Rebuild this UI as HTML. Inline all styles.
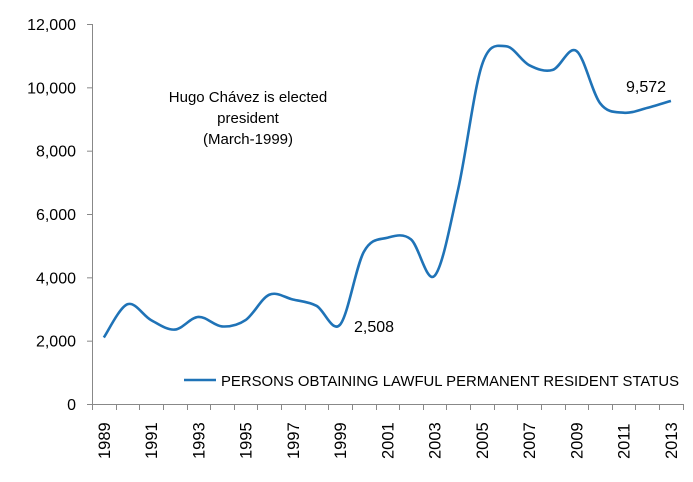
<!DOCTYPE html>
<html><head><style>
body{margin:0;background:#fff}
text{font-family:"Liberation Sans",Calibri,sans-serif;fill:#000}
</style></head><body>
<svg width="693" height="477" viewBox="0 0 693 477" xmlns="http://www.w3.org/2000/svg">
<g stroke="#888" stroke-width="1">
<line x1="92.5" y1="24" x2="92.5" y2="405"/>
<line x1="92" y1="404.5" x2="683" y2="404.5"/>
<g id="yt"></g><g id="xt"></g>
</g>
<g font-size="16" text-anchor="end" id="yl"></g>
<g font-size="16.5" id="xl"></g>
<path id="ln" fill="none" stroke="#1f73b7" stroke-width="2.6"/>
<text x="248" y="102" font-size="15" text-anchor="middle">Hugo Chávez is elected</text>
<text x="248" y="123" font-size="15" text-anchor="middle">president</text>
<text x="248" y="144" font-size="15" text-anchor="middle">(March-1999)</text>
<text x="354" y="332" font-size="16">2,508</text>
<text x="626" y="92" font-size="16">9,572</text>
<line x1="184" y1="380" x2="216" y2="380" stroke="#1f73b7" stroke-width="2.6"/>
<text x="221" y="386" font-size="15" textLength="458" lengthAdjust="spacingAndGlyphs">PERSONS OBTAINING LAWFUL PERMANENT RESIDENT STATUS</text>
</svg>
<script>
const ns="http://www.w3.org/2000/svg";
const Y=v=>404-v*380/12000, cw=23.63, X=i=>92+cw*(i+0.5);
const yt=document.getElementById('yt'),yl=document.getElementById('yl'),xt=document.getElementById('xt'),xl=document.getElementById('xl');
for(let v=0;v<=12000;v+=2000){let l=document.createElementNS(ns,'line');l.setAttribute('x1',87);l.setAttribute('x2',92);l.setAttribute('y1',Y(v)+.5);l.setAttribute('y2',Y(v)+.5);yt.appendChild(l);
let t=document.createElementNS(ns,'text');t.setAttribute('x',76);t.setAttribute('y',Y(v)+6);t.textContent=v.toLocaleString('en-US');yl.appendChild(t);}
for(let i=0;i<=25;i++){let x=Math.round(92+cw*i)+.5;let l=document.createElementNS(ns,'line');l.setAttribute('x1',x);l.setAttribute('x2',x);l.setAttribute('y1',404);l.setAttribute('y2',410);xt.appendChild(l);}
for(let i=0;i<25;i+=2){let t=document.createElementNS(ns,'text');let x=X(i)+6,y=459;t.setAttribute('transform',`translate(${x},${y}) rotate(-90)`);t.textContent=1989+i;xl.appendChild(t);}
const d=[2100,3150,2650,2350,2750,2450,2650,3450,3300,3100,2508,4800,5250,5200,4050,6800,10700,11300,10700,10550,11150,9500,9200,9350,9572];
const p=d.map((v,i)=>[X(i),Y(v)]);
let s=`M${p[0][0]},${p[0][1]}`;
for(let i=0;i<p.length-1;i++){const p0=p[i-1]||p[i],p1=p[i],p2=p[i+1],p3=p[i+2]||p[i+1],k=6;
s+=` C${p1[0]+(p2[0]-p0[0])/k},${p1[1]+(p2[1]-p0[1])/k} ${p2[0]-(p3[0]-p1[0])/k},${p2[1]-(p3[1]-p1[1])/k} ${p2[0]},${p2[1]}`;}
document.getElementById('ln').setAttribute('d',s);
</script>
</body></html>
